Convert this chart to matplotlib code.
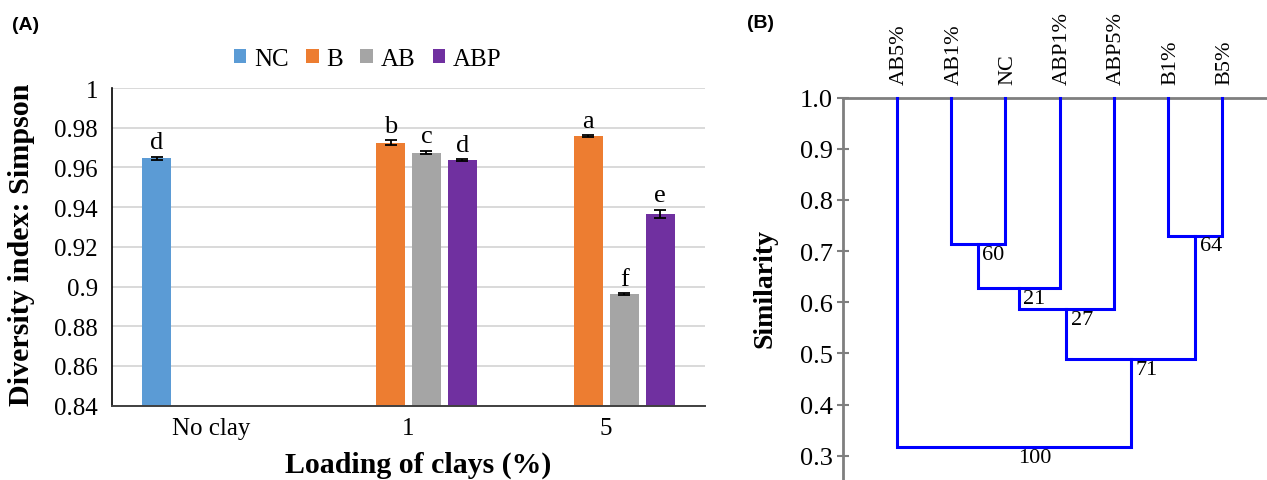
import matplotlib
matplotlib.use('Agg')
import matplotlib.pyplot as plt
import numpy as np

plt.rcParams['font.family'] = ['Liberation Serif', 'DejaVu Serif']

# panel A data
groups = ["No clay", "1", "5"]
series = ["NC", "B", "AB", "ABP"]
colors = ["#5B9BD5", "#ED7D31", "#A5A5A5", "#7030A0"]
nc_vals = [0.9645, np.nan, np.nan]
b_vals = [np.nan, 0.9725, 0.9757]
ab_vals = [np.nan, 0.9675, 0.8962]
abp_vals = [np.nan, 0.9635, 0.9367]
nc_err = [0.0010, 0, 0]
b_err = [0, 0.0012, 0.0004]
ab_err = [0, 0.0009, 0.0004]
abp_err = [0, 0.0005, 0.0021]
nc_let = ["d", "", ""]
b_let = ["", "b", "a"]
ab_let = ["", "c", "f"]
abp_let = ["", "d", "e"]
yticks_a = [0.84, 0.86, 0.88, 0.9, 0.92, 0.94, 0.96, 0.98, 1]

# panel B data
leaves = ["AB5%", "AB1%", "NC", "ABP1%", "ABP5%", "B1%", "B5%"]
# (cluster a, cluster b, similarity); new clusters numbered from len(leaves)
merges = [(1, 2, 0.714), (7, 3, 0.627), (8, 4, 0.587),
          (5, 6, 0.730), (9, 10, 0.489), (0, 11, 0.316)]
support = [60, 21, 27, 64, 71, 100]
yticks_b = [0.3, 0.4, 0.5, 0.6, 0.7, 0.8, 0.9, 1.0]

fig = plt.figure(figsize=(12.67, 4.81), dpi=100)

# ---- (A) bar chart
ax = fig.add_axes([112/1267, 1-406.7/481, 593/1267, 317.7/481])
x = np.arange(len(groups))
slot = 0.182
width = 0.147
vals = [nc_vals, b_vals, ab_vals, abp_vals]
errs = [nc_err, b_err, ab_err, abp_err]
lets = [nc_let, b_let, ab_let, abp_let]
for i, (name, c) in enumerate(zip(series, colors)):
    pos = x + (i - 1.5)*slot
    v = np.array(vals[i])
    ax.bar(pos, v, width, color=c, label=name, zorder=2)
    ok = ~np.isnan(v)
    ax.errorbar(pos[ok], v[ok], yerr=np.array(errs[i])[ok], fmt='none',
                ecolor='black', elinewidth=1.3, capsize=4.5, capthick=1.3, zorder=3)
    for p, val, e, t in zip(pos, v, errs[i], lets[i]):
        if t:
            ax.annotate(t, (p, val + e), xytext=(0, 6), textcoords='offset points',
                        ha='center', va='baseline', fontsize=19)
ax.set_xlim(-0.5, 2.5)
ax.set_ylim(0.84, 1.0)
ax.set_yticks(yticks_a)
ax.set_yticklabels([f"{t:g}" for t in yticks_a])
ax.set_xticks(x)
ax.set_xticklabels(groups)
ax.tick_params(axis='both', length=0, labelsize=18)
ax.tick_params(axis='y', pad=10)
ax.tick_params(axis='x', pad=8)
ax.yaxis.grid(True, color='#d9d9d9', lw=1.4, zorder=0)
ax.set_axisbelow(True)
for s in ['top', 'right']:
    ax.spines[s].set_visible(False)
ax.spines['left'].set_color('black')
ax.spines['left'].set_linewidth(1.2)
ax.spines['bottom'].set_color('#404040')
ax.spines['bottom'].set_linewidth(1.4)
ax.set_ylabel("Diversity index: Simpson", fontsize=21.7, fontweight='bold')
ax.yaxis.set_label_coords(-(112-22)/593, (406.7-245)/317.7)
ax.set_xlabel("Loading of clays (%)", fontsize=21.5, fontweight='bold')
ax.xaxis.set_label_coords((418.5-112)/593, -(465-406.7)/317.7)
ax.xaxis.label.set_va('center')
ax.yaxis.label.set_va('center')
ax.legend(loc='center', bbox_to_anchor=(0.431, 1.091), ncol=4, frameon=False,
          fontsize=18, handlelength=0.5, handleheight=0.5, handletextpad=0.3,
          columnspacing=0.7, borderaxespad=0)
fig.text(12/1267, 1-25/481, "(A)", family='Liberation Sans', fontweight='bold',
         fontsize=14, va='center', ha='left')

# ---- (B) dendrogram
bx = fig.add_axes([842.5/1267, 0, 1-842.5/1267, 1-98.7/481])
xs = {i: i + 1.0 for i in range(len(leaves))}
hs = {i: 1.0 for i in range(len(leaves))}
for k, (a, b, h) in enumerate(merges):
    node = len(leaves) + k
    bx.plot([xs[a], xs[a], xs[b], xs[b]], [hs[a], h, h, hs[b]],
            color='#0000FF', lw=2.2, solid_joinstyle='miter', zorder=3, clip_on=False)
    xs[node] = (xs[a] + xs[b]) / 2
    hs[node] = h
    bx.annotate(str(support[k]), (xs[node], h), xytext=(3, -0.5),
                textcoords='offset points', ha='left', va='top', fontsize=16)
for i, name in enumerate(leaves):
    bx.annotate(name, (xs[i], 1.0), xytext=(2, 10), textcoords='offset points',
                rotation=90, ha='center', va='bottom', fontsize=16, annotation_clip=False)
bx.set_xlim(0, 7.82)
bx.set_ylim(0.2524, 1.0)
bx.set_xticks([])
bx.set_yticks(yticks_b)
bx.set_yticklabels([f"{t:.1f}" for t in yticks_b])
bx.tick_params(axis='y', direction='inout', length=8, width=1.5, color='#7f7f7f',
               labelsize=19, pad=3)
for s in ['bottom', 'right']:
    bx.spines[s].set_visible(False)
for s in ['left', 'top']:
    bx.spines[s].set_color('#7f7f7f')
    bx.spines[s].set_linewidth(2)
bx.set_ylabel("Similarity", fontsize=20, fontweight='bold')
bx.yaxis.set_label_coords(-(842.5-765)/424.5, (481-288.5)/(481-98.7))
bx.yaxis.label.set_va('center')
fig.text(747/1267, 1-23/481, "(B)", family='Liberation Sans', fontweight='bold',
         fontsize=14, va='center', ha='left')

fig.savefig("out.png", dpi=100)
